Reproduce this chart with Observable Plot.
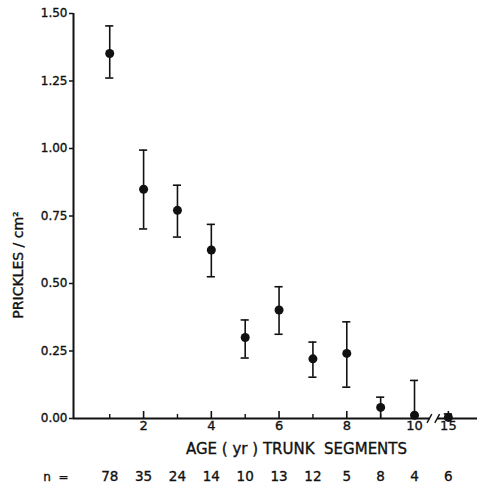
<!DOCTYPE html>
<html>
<head>
<meta charset="utf-8">
<script src="https://cdn.jsdelivr.net/npm/d3@7"></script>
<script src="https://cdn.jsdelivr.net/npm/@observablehq/plot@0.6"></script>
<style>
  html, body { margin: 0; padding: 0; background: #fff; }
  #chart svg { display: block; }
  #chart svg text { stroke: #111; stroke-width: 0.35px; }
</style>
</head>
<body>
<div id="chart"></div>
<script>
// ---- data ----
const ages   = [1, 2, 3, 4, 5, 6, 7, 8, 9, 10, 15];
const means  = [1.352, 0.849, 0.771, 0.624, 0.300, 0.402, 0.221, 0.241, 0.041, 0.012, 0.004];
const upper  = [1.454, 0.994, 0.864, 0.719, 0.365, 0.488, 0.283, 0.358, 0.079, 0.141, 0.017];
const lower  = [1.261, 0.702, 0.672, 0.525, 0.224, 0.312, 0.153, 0.116, 0.000, 0.000, 0.000];
const nCounts = [78, 35, 24, 14, 10, 13, 12, 5, 8, 4, 6];
const xTickLabels = [2, 4, 6, 8, 10, 15];
const xMinorTicks = [1, 3, 5, 7, 9];
const yTicks = [0, 0.25, 0.5, 0.75, 1.0, 1.25, 1.5];

// broken axis: ages beyond 10 are drawn one step after 10
const toPos = a => (a <= 10 ? a : 11);
const xDomain = [-0.07, 11.86];
const breakGap = [10.45, 10.68];
const capHalf = 0.12;      // half-width of error-bar caps (x units)
const majorLen = 0.026, minorLen = 0.015, slashH = 0.016;

const rows = ages.map((a, i) => ({
  age: a, pos: toPos(a), mean: means[i], hi: upper[i], lo: lower[i], n: nCounts[i]
}));

const font = "'DejaVu Sans', Verdana, sans-serif";

const chart = Plot.plot({
  width: 477,
  height: 485,
  marginLeft: 73,
  marginRight: 0,
  marginTop: 13,
  marginBottom: 67,
  style: { fontFamily: font, fontSize: "13px", color: "#111", background: "#fff" },
  x: { domain: xDomain, axis: null },
  y: { domain: [0, 1.5], axis: null },
  marks: [
    // y axis
    Plot.axisY({ ticks: yTicks, tickFormat: d3.format(".2f"), tickSize: 4, tickPadding: 2, fontSize: 12, label: null, strokeWidth: 1.5 }),
    Plot.ruleX([xDomain[0]], { stroke: "#111", strokeWidth: 2 }),
    // x axis line with a break
    Plot.ruleY([{ x1: xDomain[0], x2: breakGap[0] }, { x1: breakGap[1], x2: xDomain[1] }],
      { x1: "x1", x2: "x2", y: 0, stroke: "#111", strokeWidth: 2 }),
    // break slashes
    Plot.link(breakGap, {
      x1: d => d - 0.08, x2: d => d + 0.06, y1: -slashH, y2: slashH,
      stroke: "#111", strokeWidth: 1.4, clip: false
    }),
    // x ticks (inward)
    Plot.ruleX(xTickLabels.map(toPos), { y1: 0, y2: majorLen, stroke: "#111", strokeWidth: 1.6 }),
    Plot.ruleX(xMinorTicks, { y1: 0, y2: minorLen, stroke: "#111", strokeWidth: 1.4 }),
    // x tick labels
    Plot.text(xTickLabels, {
      x: toPos, text: d => String(d), frameAnchor: "bottom", dy: 11, fontSize: 13, fill: "#111"
    }),
    // x axis title
    Plot.text(["AGE ( yr ) TRUNK  SEGMENTS"], {
      frameAnchor: "bottom", dx: 21, dy: 35, fontSize: 15, fill: "#111"
    }),
    // n row
    Plot.text(["n  ="], { frameAnchor: "bottom-left", textAnchor: "end", dx: -5, dy: 62, fontSize: 12, fill: "#111" }),
    Plot.text(rows, { x: "pos", text: d => String(d.n), frameAnchor: "bottom", dy: 62, fontSize: 13.5, fill: "#111" }),
    // y axis title
    Plot.text(["PRICKLES / cm²"], {
      frameAnchor: "left", textAnchor: "middle", rotate: -90, dx: -55, dy: 49, fontSize: 14, fill: "#111"
    }),
    // error bars
    Plot.ruleX(rows, { x: "pos", y1: "lo", y2: "hi", stroke: "#111", strokeWidth: 1.6 }),
    Plot.ruleY(rows, { x1: d => d.pos - capHalf, x2: d => d.pos + capHalf, y: "hi", stroke: "#111", strokeWidth: 1.6 }),
    Plot.ruleY(rows.filter(d => d.lo > 0), { x1: d => d.pos - capHalf, x2: d => d.pos + capHalf, y: "lo", stroke: "#111", strokeWidth: 1.6 }),
    // means
    Plot.dot(rows, { x: "pos", y: "mean", r: 4.5, fill: "#111", stroke: "none" })
  ]
});
document.getElementById("chart").append(chart);
</script>
</body>
</html>
